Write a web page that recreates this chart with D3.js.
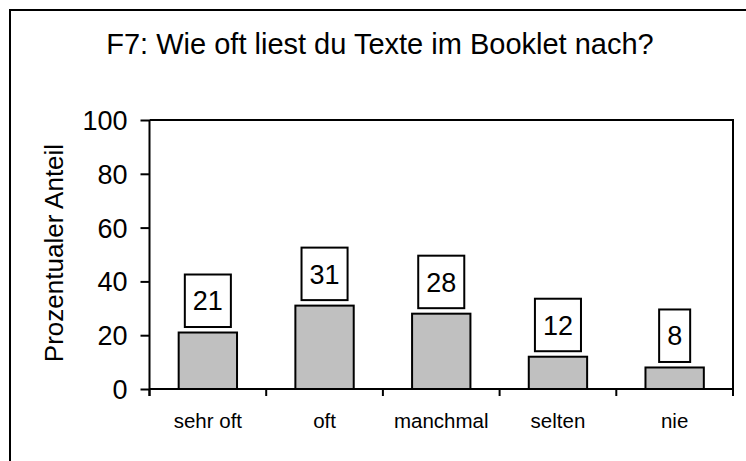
<!DOCTYPE html>
<html>
<head>
<meta charset="utf-8">
<script src="https://cdn.jsdelivr.net/npm/d3@7"></script>
<style>
html, body { margin: 0; padding: 0; background: #fff; }
svg { display: block; }
text { font-family: Arial, "Liberation Sans", sans-serif; fill: #000; }
</style>
</head>
<body>
<svg id="chart" width="746" height="461"></svg>
<script>
const titleText = "F7: Wie oft liest du Texte im Booklet nach?";
const yAxisTitle = "Prozentualer Anteil";
const categories = ["sehr oft", "oft", "manchmal", "selten", "nie"];
const values = [21, 31, 28, 12, 8];
const yTicks = [0, 20, 40, 60, 80, 100];

const svg = d3.select("#chart");
const plot = { left: 149.5, right: 733, top: 120, bottom: 389 };

// outer chart border (extends beyond the visible window on right/bottom)
svg.append("rect")
  .attr("x", 10).attr("y", 10)
  .attr("width", 800).attr("height", 500)
  .attr("fill", "none").attr("stroke", "#000").attr("stroke-width", 2);

// title
svg.append("text")
  .attr("x", 380).attr("y", 53.5)
  .attr("text-anchor", "middle")
  .style("font-size", "29px")
  .text(titleText);

const x = d3.scaleBand().domain(categories).range([plot.left, plot.right]).paddingInner(0).paddingOuter(0);
const y = d3.scaleLinear().domain([0, 100]).range([plot.bottom, plot.top]);

// plot area border (top & right)
svg.append("path")
  .attr("d", `M${plot.left},${plot.top}H${plot.right}V${plot.bottom}`)
  .attr("fill", "none").attr("stroke", "#000").attr("stroke-width", 2);

// y axis
const yAxis = d3.axisLeft(y).tickValues(yTicks).tickSize(9).tickPadding(13).tickSizeOuter(0);
const gy = svg.append("g").attr("transform", `translate(${plot.left},0)`).call(yAxis);
gy.select(".domain").attr("stroke", "#000").attr("stroke-width", 2)
  .attr("d", `M0,${plot.top}V${plot.bottom + 7}`);
gy.selectAll(".tick line").attr("stroke", "#000").attr("stroke-width", 2);
gy.selectAll(".tick text").style("font-size", "27px").style("font-family", "Arial, 'Liberation Sans', sans-serif").attr("dy", "0.35em");

// x axis line and boundary ticks
svg.append("line")
  .attr("x1", plot.left).attr("x2", plot.right)
  .attr("y1", plot.bottom).attr("y2", plot.bottom)
  .attr("stroke", "#000").attr("stroke-width", 2);
const boundaries = categories.map(c => x(c)).concat([plot.right]);
svg.selectAll(".xtick").data(boundaries).enter().append("line")
  .attr("class", "xtick")
  .attr("x1", d => d).attr("x2", d => d)
  .attr("y1", plot.bottom).attr("y2", plot.bottom + 7)
  .attr("stroke", "#000").attr("stroke-width", 2);

// x category labels
svg.selectAll(".xlab").data(categories).enter().append("text")
  .attr("class", "xlab")
  .attr("x", d => x(d) + x.bandwidth() / 2)
  .attr("y", 428)
  .attr("text-anchor", "middle")
  .style("font-size", "20.5px")
  .text(d => d);

// y axis title
svg.append("text")
  .attr("transform", `translate(63,253) rotate(-90)`)
  .attr("text-anchor", "middle")
  .style("font-size", "26px")
  .text(yAxisTitle);

// bars
const bw = x.bandwidth() * 0.5;
const data = categories.map((c, i) => ({ c, v: values[i] }));
svg.selectAll(".bar").data(data).enter().append("rect")
  .attr("class", "bar")
  .attr("x", d => x(d.c) + (x.bandwidth() - bw) / 2)
  .attr("y", d => y(d.v))
  .attr("width", bw)
  .attr("height", d => y(0) - y(d.v))
  .attr("fill", "#c0c0c0")
  .attr("stroke", "#000").attr("stroke-width", 2);

// value labels in boxes
const lab = svg.selectAll(".vl").data(data).enter().append("g").attr("class", "vl");
lab.each(function(d) {
  const g = d3.select(this);
  const cx = x(d.c) + x.bandwidth() / 2;
  const boxH = 52.5;
  const bottom = y(d.v) - 5.5;
  const t = g.append("text")
    .attr("x", cx).attr("y", bottom - boxH / 2)
    .attr("dy", "0.36em")
    .attr("text-anchor", "middle")
    .style("font-size", "27px")
    .text(d.v);
  const tw = t.node().getComputedTextLength();
  const bwid = tw + 16;
  g.insert("rect", "text")
    .attr("x", cx - bwid / 2).attr("y", bottom - boxH)
    .attr("width", bwid).attr("height", boxH)
    .attr("fill", "#fff").attr("stroke", "#000").attr("stroke-width", 2);
});
</script>
</body>
</html>
